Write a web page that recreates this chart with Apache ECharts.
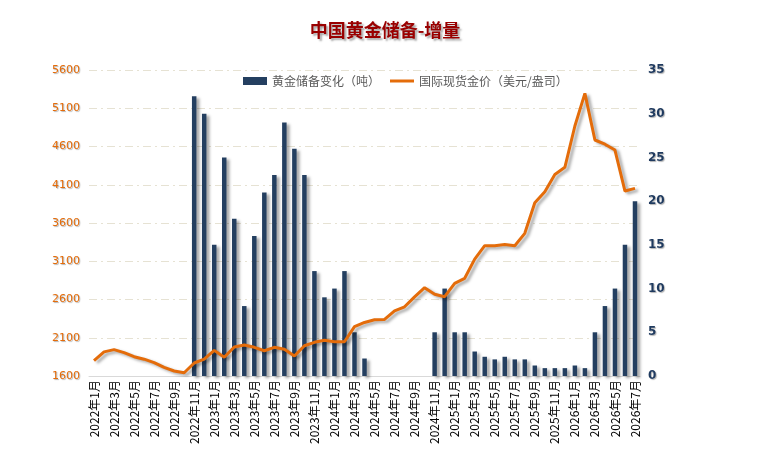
<!DOCTYPE html>
<html>
<head>
<meta charset="utf-8">
<script src="https://cdn.jsdelivr.net/npm/echarts@6/dist/echarts.min.js"></script>
<style>
  html, body { margin: 0; padding: 0; background: #fff; }
  #main { width: 770px; height: 451px; }
</style>
</head>
<body>
<div id="main"></div>
<script>
// months 2022年1月 .. 2026年7月
const months = []
for (let y = 2022; y <= 2026; y++) {
  for (let m = 1; m <= 12; m++) {
    if (y === 2026 && m > 7) break
    months.push(y + '年' + m + '月')
  }
}

// 黄金储备变化（吨）
const reserveChange = [
  0, 0, 0, 0, 0, 0, 0, 0, 0, 0, 32, 30,
  15, 25, 18, 8, 16, 21, 23, 29, 26, 23, 12, 9,
  10, 12, 5, 2, 0, 0, 0, 0, 0, 0, 5, 10,
  5, 5, 2.8, 2.2, 1.9, 2.2, 1.9, 1.9, 1.2, 0.9, 0.9, 0.9,
  1.2, 0.9, 5, 8, 10, 15, 20
]

// 国际现货金价（美元/盎司）
const goldPrice = [
  1800, 1915, 1945, 1905, 1852, 1820, 1775, 1712, 1665, 1643, 1770, 1820,
  1935, 1845, 1980, 2005, 1975, 1930, 1975, 1950, 1862, 1995, 2040, 2068,
  2048, 2048, 2245, 2300, 2335, 2340, 2452, 2505, 2635, 2755, 2668, 2637,
  2810, 2877, 3128, 3303, 3303, 3320, 3303, 3465, 3865, 4010, 4235, 4328,
  4868, 5295, 4685, 4630, 4554, 4018, 4053
]

const leftBase = 1600
const leftTicks = [1600, 2100, 2600, 3100, 3600, 4100, 4600, 5100, 5600]

const chart = echarts.init(document.getElementById('main'))
const shadow = {
  shadowColor: 'rgba(0,0,0,0.35)',
  shadowBlur: 3,
  shadowOffsetX: 3,
  shadowOffsetY: 2,
}
const options = {
  animation: false,
  title: {
    text: '中国黄金储备-增量',
    left: 'center',
    top: 16,
    textStyle: {
      color: '#990000',
      fontSize: 18,
      fontWeight: 'bold',
      fontFamily: 'Noto Sans CJK SC',
      textShadowColor: 'rgba(0,0,0,0.35)',
      textShadowOffsetX: 2,
      textShadowOffsetY: 2,
      textShadowBlur: 2,
    },
  },
  legend: {
    top: 70,
    left: 238,
    itemWidth: 24,
    itemHeight: 8,
    itemGap: 10,
    textStyle: { color: '#595959', fontSize: 12, fontFamily: 'Noto Sans CJK SC' },
    data: [
      { name: '黄金储备变化（吨）', icon: 'rect' },
      { name: '国际现货金价（美元/盎司）', icon: 'path://M0,0L24,0L24,3L0,3Z' },
    ],
  },
  grid: { left: 89, right: 130, top: 70, bottom: 75 },
  xAxis: {
    type: 'category',
    data: months,
    boundaryGap: true,
    axisLine: { lineStyle: { color: '#d9d9d9' } },
    axisTick: { interval: 1, length: 5, lineStyle: { color: '#d9d9d9' } },
    axisLabel: {
      interval: 1,
      rotate: 90,
      margin: 4,
      color: '#000',
      fontSize: 12,
      fontFamily: 'Noto Sans CJK SC',
    },
  },
  yAxis: [
    {
      type: 'value',
      min: 0,
      max: leftTicks[leftTicks.length - 1] - leftBase,
      interval: 500,
      axisLine: { show: false },
      axisTick: { show: false },
      axisLabel: {
        margin: 9,
        color: '#e46c0a',
        fontSize: 11,
        fontFamily: 'DejaVu Sans',
        formatter: v => String(v + leftBase),
        textShadowColor: 'rgba(0,0,0,0.3)',
        textShadowOffsetX: 1,
        textShadowOffsetY: 1,
        textShadowBlur: 1,
      },
      splitLine: {
        lineStyle: { color: '#e6e2d3', type: [8, 4, 2, 4], width: 1 },
      },
    },
    {
      type: 'value',
      min: 0,
      max: 35,
      interval: 5,
      position: 'right',
      axisLine: { show: false },
      axisTick: { show: false },
      splitLine: { show: false },
      axisLabel: {
        margin: 8,
        color: '#1f3a5f',
        fontSize: 12,
        fontWeight: 'bold',
        fontFamily: 'DejaVu Sans',
        textShadowColor: 'rgba(0,0,0,0.3)',
        textShadowOffsetX: 1,
        textShadowOffsetY: 1,
        textShadowBlur: 1,
      },
    },
  ],
  series: [
    {
      name: '黄金储备变化（吨）',
      type: 'bar',
      yAxisIndex: 1,
      barWidth: 4.5,
      itemStyle: Object.assign({ color: '#243f60' }, shadow),
      data: reserveChange,
    },
    {
      name: '国际现货金价（美元/盎司）',
      type: 'line',
      yAxisIndex: 0,
      symbol: 'none',
      itemStyle: { color: '#e46c0a' },
      lineStyle: Object.assign({ color: '#e46c0a', width: 3 }, shadow),
      data: goldPrice.map(v => v - leftBase),
    },
  ],
}
chart.setOption(options)
</script>
</body>
</html>
